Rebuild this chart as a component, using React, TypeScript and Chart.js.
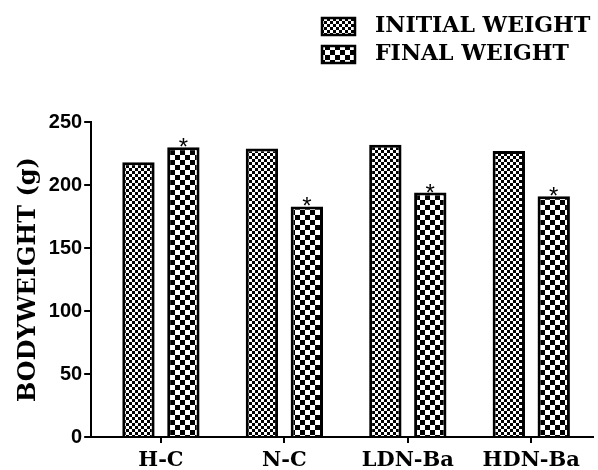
import React, { useEffect, useRef } from "react";
import { Chart, registerables } from "chart.js";

Chart.register(...registerables);

const categories = ["H-C", "N-C", "LDN-Ba", "HDN-Ba"];
const initialWeight = [218, 229, 232, 227];
const finalWeight = [230, 183, 194, 191];
const seriesNames = ["INITIAL WEIGHT", "FINAL WEIGHT"];
const yTicks = [0, 50, 100, 150, 200, 250];
const yTitle = "BODYWEIGHT (g)";
const marker = "*";

function makePattern(ctx: CanvasRenderingContext2D, cell: number, darkBg: boolean) {
  const c = document.createElement("canvas");
  c.width = cell * 2;
  c.height = cell * 2;
  const p = c.getContext("2d")!;
  p.fillStyle = darkBg ? "#000" : "#fff";
  p.fillRect(0, 0, cell * 2, cell * 2);
  p.fillStyle = darkBg ? "#fff" : "#000";
  p.fillRect(0, 0, cell, cell);
  p.fillRect(cell, cell, cell, cell);
  return ctx.createPattern(c, "repeat")!;
}

const serif = "'DejaVu Serif', serif";

const extrasPlugin = {
  id: "extras",
  afterDatasetsDraw(chart: any) {
    const ctx = chart.ctx;
    const meta = chart.getDatasetMeta(1);
    ctx.save();
    ctx.fillStyle = "#000";
    ctx.font = "24px 'Liberation Sans', Arial, sans-serif";
    ctx.textAlign = "center";
    ctx.textBaseline = "alphabetic";
    meta.data.forEach((el: any) => {
      ctx.fillText(marker, el.x, el.y + 8);
    });
    ctx.restore();
  },
  afterDraw(chart: any) {
    const ctx = chart.ctx;
    ctx.save();
    const boxX = chart.width - 276;
    const textX = chart.width - 223;
    chart.data.datasets.forEach((ds: any, i: number) => {
      const rowY = 26 + i * 28;
      ctx.fillStyle = ds.backgroundColor;
      ctx.fillRect(boxX, rowY - 8, 33, 17);
      ctx.strokeStyle = "#000";
      ctx.lineWidth = 2.5;
      ctx.strokeRect(boxX, rowY - 8, 33, 17);
      ctx.fillStyle = "#000";
      ctx.font = "bold 22px " + serif;
      ctx.textAlign = "left";
      ctx.textBaseline = "middle";
      ctx.fillText(ds.label, textX, rowY);
    });
    ctx.restore();
  },
};

export default function App() {
  const ref = useRef<HTMLCanvasElement>(null);
  useEffect(() => {
    const canvas = ref.current!;
    const ctx = canvas.getContext("2d")!;
    const pInit = makePattern(ctx, 3, true);
    const pFinal = makePattern(ctx, 5, false);
    const chart = new Chart(ctx, {
      type: "bar",
      data: {
        datasets: [
          {
            label: seriesNames[0],
            data: categories.map((_, i) => ({ x: i, y: initialWeight[i] })),
            backgroundColor: pInit as any,
            borderColor: "#000",
            borderWidth: 3,
            categoryPercentage: 0.728,
            barPercentage: 0.72,
          },
          {
            label: seriesNames[1],
            data: categories.map((_, i) => ({ x: i, y: finalWeight[i] })),
            backgroundColor: pFinal as any,
            borderColor: "#000",
            borderWidth: 3,
            categoryPercentage: 0.728,
            barPercentage: 0.72,
          },
        ],
      },
      options: {
        responsive: false,
        animation: false,
        layout: { padding: { top: 122, right: 5, left: 10, bottom: -8 } },
        plugins: { legend: { display: false }, tooltip: { enabled: false } },
        scales: {
          x: {
            type: "linear",
            offset: false,
            min: -0.565,
            max: 3.5,
            afterBuildTicks: (scale: any) => {
              scale.ticks = categories.map((_, i) => ({ value: i }));
            },
            ticks: {
              callback: (v: any) => categories[v] ?? "",
              color: "#000",
              font: { family: serif, size: 21, weight: "bold", lineHeight: 1 },
              padding: 7,
              maxRotation: 0,
              autoSkip: false,
            },
            grid: { offset: false, drawOnChartArea: false, drawTicks: true, tickLength: 6, color: "#000", lineWidth: 2 },
            border: { display: true, color: "#000", width: 2 },
          },
          y: {
            min: 0,
            max: 250,
            afterBuildTicks: (scale: any) => {
              scale.ticks = yTicks.map((v) => ({ value: v }));
            },
            ticks: {
              color: "#000",
              font: { family: "'Liberation Sans', Arial, sans-serif", size: 20, weight: "bold" },
              padding: 2,
            },
            grid: { drawOnChartArea: false, drawTicks: true, tickLength: 7, color: "#000", lineWidth: 2 },
            border: { display: true, color: "#000", width: 2 },
            title: {
              display: true,
              text: yTitle,
              color: "#000",
              font: { family: serif, size: 24, weight: "bold" },
              padding: { top: 4, bottom: 4 },
            },
          },
        },
      },
      plugins: [extrasPlugin],
    });
    return () => chart.destroy();
  }, []);
  return (
    <div style={{ position: "fixed", left: 0, top: 0, width: 598, height: 470, background: "#fff" }}>
      <canvas ref={ref} width={598} height={470} />
    </div>
  );
}
